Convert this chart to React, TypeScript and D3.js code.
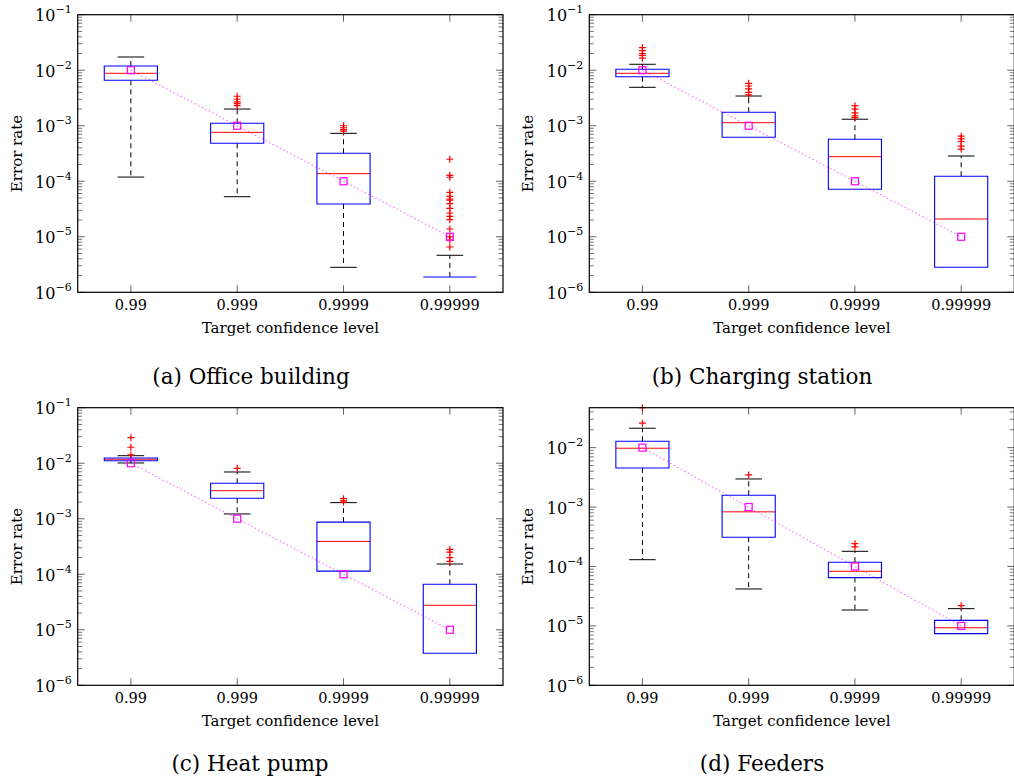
import React from 'react';
import * as d3 from 'd3';

const categories = ['0.99', '0.999', '0.9999', '0.99999'];
const targetRates = [1e-2, 1e-3, 1e-4, 1e-5];
const decadeExponents = [-6, -5, -4, -3, -2, -1];

// (a) Office building
const officeWhiskerLow = [1.19e-4, 5.27e-5, 2.82e-6, 1.89e-6];
const officeQ1 = [6.58e-3, 4.83e-4, 3.89e-5, 1.89e-6];
const officeMedian = [8.8e-3, 7.6e-4, 1.37e-4, 1.89e-6];
const officeQ3 = [1.19e-2, 1.107e-3, 3.19e-4, 1.89e-6];
const officeWhiskerHigh = [1.73e-2, 2.0e-3, 7.3e-4, 4.64e-6];
const officeOutliers = [
  [],
  [2.3e-3, 2.5e-3, 2.7e-3, 3.0e-3, 3.4e-3],
  [8.0e-4, 8.5e-4, 9.2e-4, 1.0e-3],
  [2.49e-4, 1.28e-4, 1.18e-4, 6.3e-5, 5.36e-5, 4.79e-5, 4.59e-5, 3.94e-5, 3.26e-5, 2.68e-5, 2.34e-5, 2.03e-5, 1.38e-5, 1.0e-5, 8.75e-6, 6.55e-6],
];

// (b) Charging station
const chargingWhiskerLow = [4.92e-3, 6.2e-4, 7.17e-5, 2.82e-6];
const chargingQ1 = [7.64e-3, 6.2e-4, 7.17e-5, 2.82e-6];
const chargingMedian = [8.8e-3, 1.135e-3, 2.77e-4, 2.09e-5];
const chargingQ3 = [1.04e-2, 1.75e-3, 5.7e-4, 1.23e-4];
const chargingWhiskerHigh = [1.28e-2, 3.43e-3, 1.31e-3, 2.85e-4];
const chargingOutliers = [
  [1.65e-2, 1.85e-2, 2.0e-2, 2.25e-2, 2.55e-2],
  [3.6e-3, 4.0e-3, 4.6e-3, 5.2e-3, 5.8e-3],
  [1.4e-3, 1.5e-3, 1.7e-3, 2.0e-3, 2.3e-3],
  [3.8e-4, 4.3e-4, 5.2e-4, 5.8e-4, 6.5e-4],
];

// (c) Heat pump
const heatWhiskerLow = [1.01e-2, 1.22e-3, 1.14e-4, 3.77e-6];
const heatQ1 = [1.11e-2, 2.34e-3, 1.14e-4, 3.77e-6];
const heatMedian = [1.18e-2, 3.2e-3, 3.9e-4, 2.76e-5];
const heatQ3 = [1.24e-2, 4.35e-3, 8.7e-4, 6.6e-5];
const heatWhiskerHigh = [1.365e-2, 6.95e-3, 1.95e-3, 1.53e-4];
const heatOutliers = [
  [1.41e-2, 1.94e-2, 2.88e-2],
  [8.1e-3],
  [2.0e-3, 2.1e-3, 2.3e-3],
  [1.7e-4, 2.0e-4, 2.5e-4, 2.8e-4],
];

// (d) Feeders
const feederWhiskerLow = [1.3e-4, 4.18e-5, 1.85e-5, 7.4e-6];
const feederQ1 = [4.55e-3, 3.1e-4, 6.5e-5, 7.4e-6];
const feederMedian = [9.77e-3, 8.3e-4, 8.3e-5, 9.3e-6];
const feederQ3 = [1.28e-2, 1.58e-3, 1.18e-4, 1.24e-5];
const feederWhiskerHigh = [2.12e-2, 2.97e-3, 1.8e-4, 1.95e-5];
const feederOutliers = [
  [2.58e-2, 4.7e-2],
  [3.47e-3],
  [2.13e-4, 2.42e-4],
  [2.19e-5],
];

const captions = ['(a) Office building', '(b) Charging station', '(c) Heat pump', '(d) Feeders'];
const yMaxima = [1e-1, 1e-1, 1e-1, 4.7e-2];

const series = [
  { lo: officeWhiskerLow, q1: officeQ1, med: officeMedian, q3: officeQ3, hi: officeWhiskerHigh, out: officeOutliers },
  { lo: chargingWhiskerLow, q1: chargingQ1, med: chargingMedian, q3: chargingQ3, hi: chargingWhiskerHigh, out: chargingOutliers },
  { lo: heatWhiskerLow, q1: heatQ1, med: heatMedian, q3: heatQ3, hi: heatWhiskerHigh, out: heatOutliers },
  { lo: feederWhiskerLow, q1: feederQ1, med: feederMedian, q3: feederQ3, hi: feederWhiskerHigh, out: feederOutliers },
];

// panel frames: [left, top, right, bottom, caption centre x, caption baseline]
const frames = [
  [77.7, 14.7, 503, 292.3, 251, 384],
  [589.3, 14.7, 1014.3, 292.3, 762, 384],
  [77.7, 407.7, 503, 685.3, 250, 771],
  [589.3, 407.7, 1014.3, 685.3, 762, 771],
];

const AXIS_FONT = '"DejaVu Serif", serif';
const CAPTION_FONT = '"DejaVu Serif", serif';
const TICK_COLOR = '#555';

function Panel({ idx }: { idx: number }) {
  const [left, top, right, bottom, capX, capY] = frames[idx];
  const s = series[idx];
  const yMax = yMaxima[idx];
  const x = d3.scaleLinear().domain([0.5, categories.length + 0.5]).range([left, right]);
  const y = d3.scaleLog().domain([1e-6, yMax]).range([bottom, top]);
  const boxHalf = 0.25;
  const capHalf = 0.125;

  const majors = decadeExponents.map((e) => Math.pow(10, e)).filter((v) => v <= yMax * 1.0001);
  const minors: number[] = [];
  decadeExponents.forEach((e) => {
    for (let m = 2; m <= 9; m++) {
      const v = m * Math.pow(10, e);
      if (v <= yMax * 1.0001) minors.push(v);
    }
  });

  const targetLine = d3
    .line<number>()
    .x((_, i) => x(i + 1))
    .y((d) => y(d))(targetRates);

  const majorLen = 7;
  const minorLen = 4.5;

  return (
    <g>
      {/* y ticks, both sides */}
      {minors.map((v, i) => (
        <g key={'mn' + i} stroke={TICK_COLOR} strokeWidth={0.8}>
          <line x1={left} x2={left + minorLen} y1={y(v)} y2={y(v)} />
          <line x1={right} x2={right - minorLen} y1={y(v)} y2={y(v)} />
        </g>
      ))}
      {majors.map((v, i) => (
        <g key={'mj' + i} stroke={TICK_COLOR} strokeWidth={0.9}>
          <line x1={left} x2={left + majorLen} y1={y(v)} y2={y(v)} />
          <line x1={right} x2={right - majorLen} y1={y(v)} y2={y(v)} />
        </g>
      ))}
      {/* x ticks, top and bottom */}
      {categories.map((c, i) => (
        <g key={'xt' + c} stroke={TICK_COLOR} strokeWidth={0.9}>
          <line x1={x(i + 1)} x2={x(i + 1)} y1={bottom} y2={bottom - majorLen} />
          <line x1={x(i + 1)} x2={x(i + 1)} y1={top} y2={top + majorLen} />
        </g>
      ))}

      {/* boxes */}
      {categories.map((c, i) => {
        const cx = x(i + 1);
        const bx0 = x(i + 1 - boxHalf);
        const bx1 = x(i + 1 + boxHalf);
        const wx0 = x(i + 1 - capHalf);
        const wx1 = x(i + 1 + capHalf);
        const yq1 = y(s.q1[i]);
        const yq3 = y(s.q3[i]);
        const collapsed = s.q1[i] === s.q3[i];
        return (
          <g key={'box' + c}>
            {s.hi[i] > s.q3[i] && (
              <>
                <line x1={cx} x2={cx} y1={yq3} y2={y(s.hi[i])} stroke="#000" strokeWidth={1} strokeDasharray="5,4" />
                <line x1={wx0} x2={wx1} y1={y(s.hi[i])} y2={y(s.hi[i])} stroke="#000" strokeWidth={1} />
              </>
            )}
            {s.lo[i] < s.q1[i] && (
              <>
                <line x1={cx} x2={cx} y1={yq1} y2={y(s.lo[i])} stroke="#000" strokeWidth={1} strokeDasharray="5,4" />
                <line x1={wx0} x2={wx1} y1={y(s.lo[i])} y2={y(s.lo[i])} stroke="#000" strokeWidth={1} />
              </>
            )}
            {!collapsed && (
              <line x1={bx0} x2={bx1} y1={y(s.med[i])} y2={y(s.med[i])} stroke="#ff0000" strokeWidth={1} />
            )}
            <path
              d={`M${bx0},${yq3}H${bx1}V${yq1}H${bx0}Z`}
              fill="none"
              stroke="#0000ff"
              strokeWidth={1.1}
            />
            {s.out[i].map((v, k) => (
              <path
                key={k}
                d={`M${cx - 3.5},${y(v)}h7M${cx},${y(v) - 3.5}v7`}
                stroke="#ff0000"
                strokeWidth={1.2}
              />
            ))}
          </g>
        );
      })}

      {/* target rates */}
      <path d={targetLine || ''} fill="none" stroke="#ff00ff" strokeOpacity={0.7} strokeWidth={1.1} strokeDasharray="1.2,2.8" />
      {targetRates.map((v, i) => (
        <rect key={'tg' + i} x={x(i + 1) - 3.5} y={y(v) - 3.5} width={7} height={7} fill="none" stroke="#ff00ff" strokeWidth={1.2} />
      ))}

      {/* frame */}
      <rect x={left} y={top} width={right - left} height={bottom - top} fill="none" stroke="#000" strokeWidth={1.2} />

      {/* tick labels */}
      {majors.map((v, i) => {
        const e = Math.round(Math.log10(v));
        return (
          <text key={'yl' + i} x={left - 6} y={y(v) + 6.5} textAnchor="end" fontFamily={AXIS_FONT} fontSize={16} fill="#000">
            <tspan>10</tspan>
            <tspan dy={-8} fontSize={11}>{'\u2212' + Math.abs(e)}</tspan>
          </text>
        );
      })}
      {categories.map((c, i) => (
        <text key={'xl' + c} x={x(i + 1)} y={bottom + 18} textAnchor="middle" fontFamily={AXIS_FONT} fontSize={14.5} fill="#000">
          {c}
        </text>
      ))}
      <text x={(left + right) / 2} y={bottom + 41} textAnchor="middle" fontFamily={AXIS_FONT} fontSize={15} fill="#000">
        Target confidence level
      </text>
      <text
        transform={`translate(${left - 56},${(top + bottom) / 2}) rotate(-90)`}
        textAnchor="middle"
        fontFamily={AXIS_FONT}
        fontSize={15}
        fill="#000"
      >
        Error rate
      </text>
      <text x={capX} y={capY} textAnchor="middle" fontFamily={CAPTION_FONT} fontSize={21.5} fill="#000">
        {captions[idx]}
      </text>
    </g>
  );
}

export default function App() {
  return (
    <svg
      width={1014}
      height={783}
      viewBox="0 0 1014 783"
      style={{ position: 'absolute', left: 0, top: 0, background: '#fff' }}
    >
      <rect width={1014} height={783} fill="#fff" />
      {frames.map((_, i) => (
        <Panel key={i} idx={i} />
      ))}
    </svg>
  );
}
